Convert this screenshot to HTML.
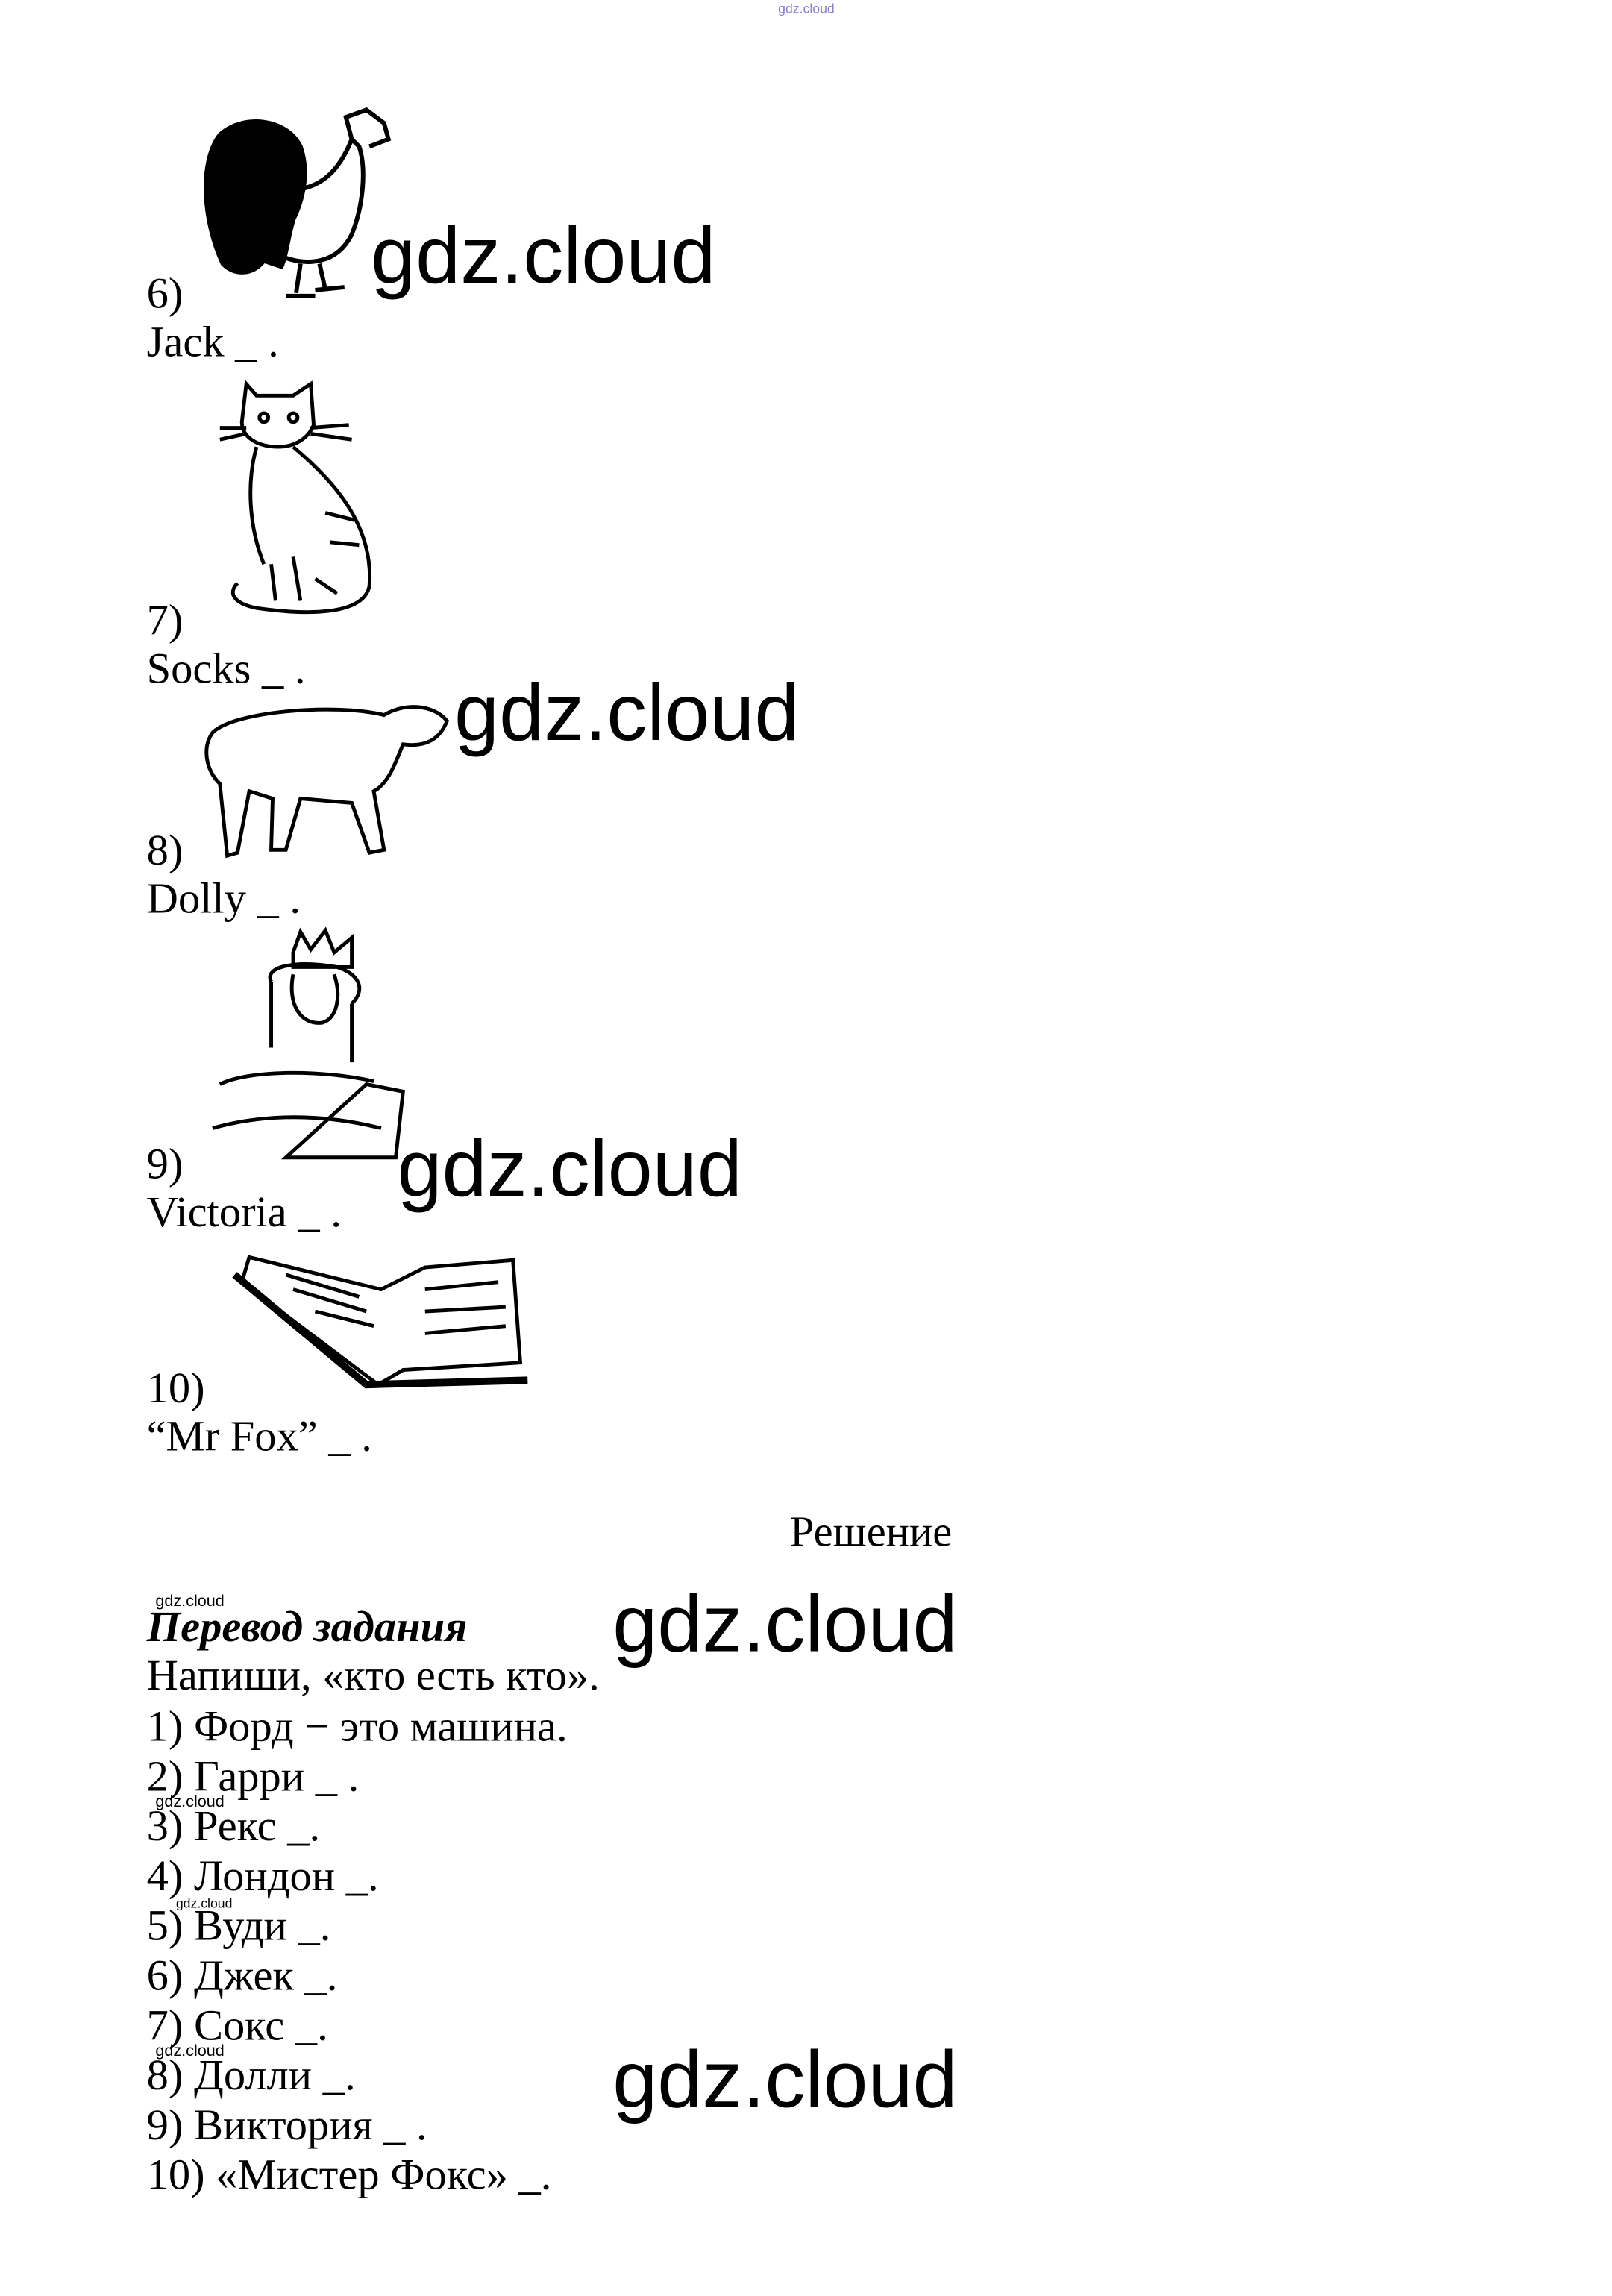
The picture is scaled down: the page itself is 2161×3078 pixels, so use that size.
<!DOCTYPE html>
<html><head><meta charset="utf-8"><style>html,body{margin:0;padding:0;background:#fff}svg{display:block}</style></head>
<body>
<svg width="2161" height="3078" viewBox="0 0 1100 1567" xmlns="http://www.w3.org/2000/svg">
<rect width="1100" height="1567" fill="#fff"/>
<text x="531" y="9" font-family="Liberation Sans, sans-serif" font-size="9" fill="#8a7fd0">gdz.cloud</text>

<!-- rooster -->
<g stroke="#000" stroke-width="3" fill="none">
<path d="M152 180 C138 150,136 110,150 92 C165 78,195 80,205 100 C212 120,205 140,200 150 C196 165,195 175,192 182 L180 178 C172 188,160 188,152 180 Z" fill="#000"/>
<path d="M195 130 C220 130,232 115,240 95 L245 100 C250 115,248 140,240 160 C230 180,210 182,192 175"/>
<path d="M240 95 L236 80 L250 75 L262 84 L265 95 L252 100"/>
<path d="M205 180 L202 200 M218 180 L222 198 M195 202 L215 202 M215 198 L235 196"/>
</g>
<text x="253" y="193" font-family="Liberation Sans, sans-serif" font-size="55" fill="#000">gdz.cloud</text>

<g font-family="Liberation Serif, serif" font-size="29.8" fill="#000">
<text x="100" y="210">6)</text>
<text x="100" y="243">Jack _ .</text>
<text x="100" y="433">7)</text>
<text x="100" y="466">Socks _ .</text>
<text x="100" y="590">8)</text>
<text x="100" y="623">Dolly _ .</text>
<text x="100" y="804">9)</text>
<text x="100" y="837">Victoria _ .</text>
<text x="100" y="957">10)</text>
<text x="100" y="990">“Mr Fox” _ .</text>
<text x="539" y="1055">Решение</text>
<text x="100" y="1120" font-weight="bold" font-style="italic">Перевод задания</text>
<text x="100" y="1153">Напиши, «кто есть кто».</text>
<text x="100" y="1188">1) Форд − это машина.</text>
<text x="100" y="1222">2) Гарри _ .</text>
<text x="100" y="1256">3) Рекс _.</text>
<text x="100" y="1290">4) Лондон _.</text>
<text x="100" y="1324">5) Вуди _.</text>
<text x="100" y="1358">6) Джек _.</text>
<text x="100" y="1392">7) Сокс _.</text>
<text x="100" y="1426">8) Долли _.</text>
<text x="100" y="1460">9) Виктория _ .</text>
<text x="100" y="1494">10) «Мистер Фокс» _.</text>
</g>

<!-- cat -->
<g stroke="#000" stroke-width="2.5" fill="none">
<path d="M168 262 L175 270 L200 270 L212 262 L214 290 C210 300,200 305,190 305 C175 305,165 298,165 288 Z"/>
<circle cx="180" cy="285" r="3"/><circle cx="200" cy="285" r="3"/>
<path d="M150 292 L168 292 M212 292 L238 290 M150 300 L168 296 M212 296 L240 300"/>
<path d="M175 305 C168 330,170 360,180 385 M200 305 C230 330,255 360,252 400 C248 420,210 420,175 415 C160 412,155 405,162 398"/>
<path d="M185 385 L188 410 M200 380 L205 410 M215 395 L230 405 M225 370 L245 372 M222 350 L242 355"/>
</g>
<!-- sheep -->
<g stroke="#000" stroke-width="2.5" fill="none">
<path d="M145 500 C160 485,230 480,262 488 C275 480,295 480,305 492 C300 505,290 510,275 508 C270 520,265 535,255 540 L262 580 L252 582 L240 548 L205 545 L195 580 L185 580 L186 545 L170 540 L162 582 L155 584 L150 535 C140 525,138 510,145 500 Z"/>
</g>
<text x="310" y="505" font-family="Liberation Sans, sans-serif" font-size="55" fill="#000">gdz.cloud</text>
<!-- queen -->
<g stroke="#000" stroke-width="2.5" fill="none">
<path d="M200 650 L205 636 L212 648 L222 635 L228 650 L240 640 L240 660 L200 660 Z"/>
<path d="M185 670 C180 660,200 655,230 660 C245 665,250 675,240 685 M200 665 C196 685,205 700,220 698 C230 695,233 680,228 665"/>
<path d="M185 670 L185 715 M240 685 L240 725 M150 740 C170 730,220 730,255 738 M145 770 C180 760,220 760,260 770"/>
<path d="M195 790 L250 740 L275 745 L270 790 Z"/>
</g>
<text x="271" y="816" font-family="Liberation Sans, sans-serif" font-size="55" fill="#000">gdz.cloud</text>
<!-- book -->
<g stroke="#000" stroke-width="2.5" fill="none">
<path d="M170 858 L260 880 L290 865 L350 860 L355 930 L275 935 L258 945 L165 875 Z"/>
<path d="M160 870 L250 945 L360 942" stroke-width="5"/>
<path d="M195 870 L245 885 M200 880 L250 895 M215 895 L255 905 M290 880 L340 875 M290 895 L345 892 M290 910 L345 905"/>
</g>

<text x="106" y="1096" font-family="Liberation Sans, sans-serif" font-size="11" fill="#000">gdz.cloud</text>
<text x="106" y="1233" font-family="Liberation Sans, sans-serif" font-size="11" fill="#000">gdz.cloud</text>
<text x="120" y="1302" font-family="Liberation Sans, sans-serif" font-size="9" fill="#000">gdz.cloud</text>
<text x="106" y="1403" font-family="Liberation Sans, sans-serif" font-size="11" fill="#000">gdz.cloud</text>
<text x="418" y="1127" font-family="Liberation Sans, sans-serif" font-size="55" fill="#000">gdz.cloud</text>
<text x="418" y="1438" font-family="Liberation Sans, sans-serif" font-size="55" fill="#000">gdz.cloud</text>
</svg>
</body></html>
